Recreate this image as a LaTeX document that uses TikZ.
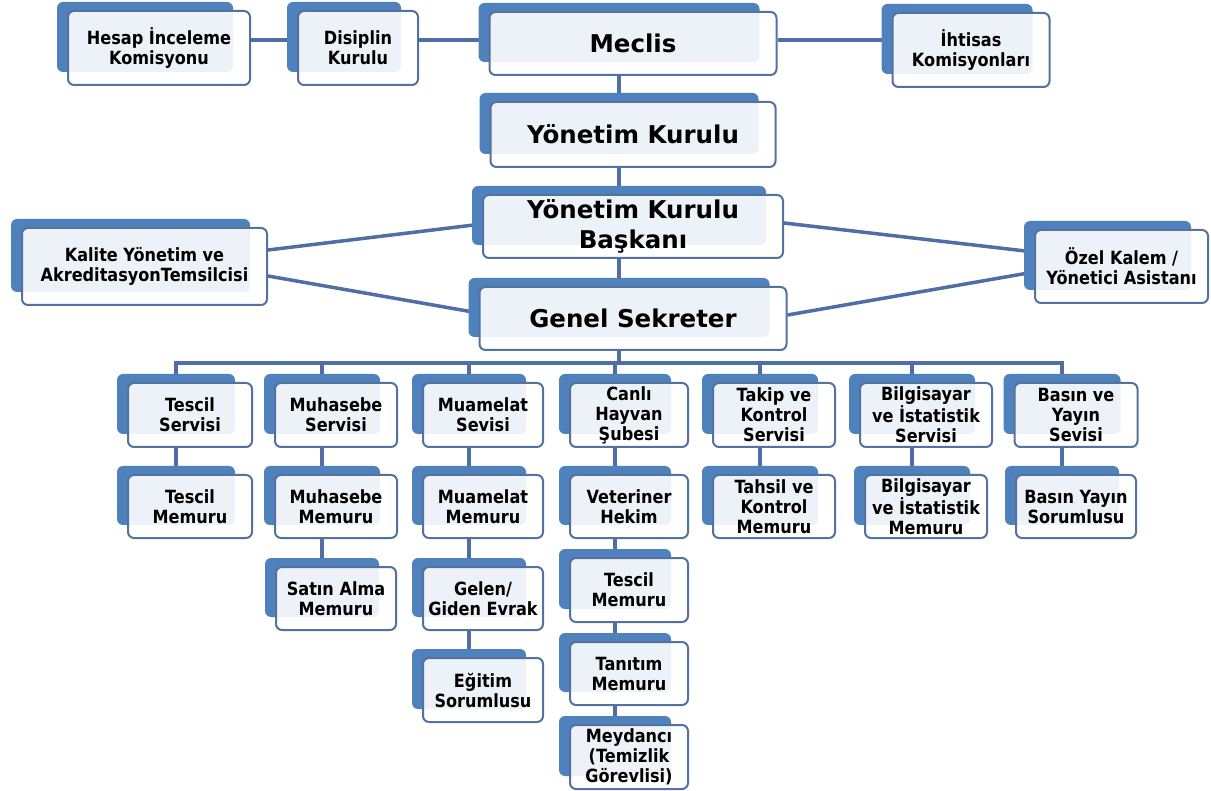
\documentclass[tikz,border=0pt]{standalone}
\usepackage{fontspec}
\setmainfont{DejaVu Sans}
\newfontfamily\narrowfont{DejaVu Sans}[FakeStretch=0.885]
\usetikzlibrary{calc}

\definecolor{tabblue}{RGB}{79,129,189}
\definecolor{frameblue}{RGB}{84,114,160}
\definecolor{linkblue}{RGB}{78,110,165}

\pgfdeclarelayer{links}
\pgfdeclarelayer{tabs}
\pgfsetlayers{links,tabs,main}

\newcommand\headfont{\bfseries\fontsize{24.5}{30}\selectfont}
\newcommand\unitfont{\narrowfont\bfseries\fontsize{18.2}{20}\selectfont}

\tikzset{
  orgbox/.style={draw=frameblue, line width=2pt, fill=white, fill opacity=0.9,
    text opacity=1, rounded corners=6pt, align=center, inner sep=0pt},
  head/.style={orgbox, font=\headfont, minimum height=63pt},
  unit/.style={orgbox, font=\unitfont, minimum width=122pt, minimum height=64pt},
  link/.style={draw=linkblue, line width=3.5pt},
}

\begin{document}
\begin{tikzpicture}[x=1pt,y=-1pt]
  \useasboundingbox (0,0) rectangle (1211,791);

  % board and committees
  \node[unit, minimum width=182pt, minimum height=74pt] (hesap) at (159,48) {Hesap İnceleme\\Komisyonu};
  \node[unit, minimum width=120pt, minimum height=74pt] (disiplin) at (358,48) {Disiplin\\Kurulu};
  \node[head, minimum width=287pt] (meclis) at (633,43.5) {Meclis};
  \node[unit, minimum width=157pt, minimum height=74pt] (ihtisas) at (971,50) {İhtisas\\Komisyonları};
  \node[head, minimum width=285pt, minimum height=65pt] (yk) at (633,134.5) {Yönetim Kurulu};
  \node[head, minimum width=300pt] (baskan) at (633,226.5) {Yönetim Kurulu\\Başkanı};
  \node[unit, minimum width=245pt, minimum height=77pt] (kalite) at (144.5,266.5) {Kalite Yönetim ve\\AkreditasyonTemsilcisi};
  \node[unit, minimum width=173pt, minimum height=73pt] (ozel) at (1121.5,266.5) {Özel Kalem /\\Yönetici Asistanı};
  \node[head, minimum width=307pt] (genel) at (633,318.5) {Genel Sekreter};

  % services
  \foreach \nd/\x/\w/\txt in {tescilS/190/124/{Tescil\\Servisi},
      muhasebeS/336/122/{Muhasebe\\Servisi}, muamelatS/483/120/{Muamelat\\Sevisi},
      canliS/629/118/{Canlı\\Hayvan\\Şubesi}, takipS/774/122/{Takip ve\\Kontrol\\Servisi},
      bilgiS/926/132/{Bilgisayar\\ve İstatistik\\Servisi}, basinS/1076/123/{Basın ve\\Yayın\\Sevisi}}
    \node[unit, minimum width=\w pt] (\nd) at (\x,415) {\txt};

  % staff, first row
  \foreach \nd/\x/\w/\txt in {tescilM/190/124/{Tescil\\Memuru},
      muhasebeM/336/122/{Muhasebe\\Memuru}, muamelatM/483/120/{Muamelat\\Memuru},
      veteriner/629/118/{Veteriner\\Hekim}, tahsil/774/122/{Tahsil ve\\Kontrol\\Memuru},
      bilgiM/926/122/{Bilgisayar\\ve İstatistik\\Memuru}, basinM/1076/120/{Basın Yayın\\Sorumlusu}}
    \node[unit, minimum width=\w pt, minimum height=63pt] (\nd) at (\x,506.5) {\txt};

  % staff, lower rows
  \node[unit, minimum width=120pt, minimum height=63pt] (satin) at (336,598.5) {Satın Alma\\Memuru};
  \node[unit, minimum width=120pt, minimum height=63pt] (gelen) at (483,598.5) {Gelen/\\Giden Evrak};
  \node[unit, minimum width=118pt, minimum height=64pt] (tescilC) at (629,590) {Tescil\\Memuru};
  \node[unit, minimum width=120pt, minimum height=64pt] (egitim) at (483,690) {Eğitim\\Sorumlusu};
  \node[unit, minimum width=118pt, minimum height=63pt] (tanitim) at (629,673.5) {Tanıtım\\Memuru};
  \node[unit, minimum width=118pt, minimum height=64pt] (meydanci) at (629,757) {Meydancı\\(Temizlik\\Görevlisi)};

  % blue tabs behind the boxes
  \begin{pgfonlayer}{tabs}
    \foreach \nd in {hesap,disiplin,meclis,ihtisas,yk,baskan,kalite,ozel,genel,
        tescilS,muhasebeS,muamelatS,canliS,takipS,bilgiS,basinS,
        tescilM,muhasebeM,muamelatM,veteriner,tahsil,bilgiM,basinM,
        satin,gelen,tescilC,egitim,tanitim,meydanci}
      \fill[tabblue, rounded corners=6pt] ($(\nd.south west)+(-10pt,14pt)$) rectangle ($(\nd.north east)+(-18pt,8pt)$);
  \end{pgfonlayer}

  % connectors
  \begin{pgfonlayer}{links}
    \coordinate (topline) at (0,40);
    \draw[link] (hesap.east |- topline) -- (disiplin.west |- topline);
    \draw[link] (disiplin.east |- topline) -- (meclis.west |- topline);
    \draw[link] (meclis.east |- topline) -- (ihtisas.west |- topline);
    \draw[link] ([xshift=-14pt]meclis.south) -- ([xshift=-14pt]yk.north);
    \draw[link] ([xshift=-14pt]yk.south) -- ([xshift=-14pt]baskan.north);
    \draw[link] ([xshift=-14pt]baskan.south) -- ([xshift=-14pt]genel.north);
    \draw[link] ([yshift=16.5pt]kalite.east) -- ([yshift=2.5pt]baskan.west);
    \draw[link] ([yshift=-9.5pt]kalite.east) -- ([yshift=5.5pt]genel.west);
    \draw[link] ([yshift=3.5pt]baskan.east) -- ([yshift=14.5pt]ozel.west);
    \draw[link] ([yshift=3.5pt]genel.east) -- ([yshift=-5.5pt]ozel.west);
    \coordinate (bus) at ([xshift=-14pt]genel.south |- 0,363);
    \draw[link] ([xshift=-14pt]genel.south) -- (bus);
    \foreach \nd in {tescilS,muhasebeS,muamelatS,canliS,takipS,bilgiS,basinS}
      \draw[link] ([xshift=-14pt]\nd.north) |- (bus);
    \foreach \up/\dn in {tescilS/tescilM, muhasebeS/muhasebeM, muhasebeM/satin,
        muamelatS/muamelatM, muamelatM/gelen, gelen/egitim,
        canliS/veteriner, veteriner/tescilC, tescilC/tanitim, tanitim/meydanci,
        takipS/tahsil, bilgiS/bilgiM, basinS/basinM}
      \draw[link] ([xshift=-14pt]\up.south) -- ([xshift=-14pt]\dn.north);
  \end{pgfonlayer}
\end{tikzpicture}
\end{document}
